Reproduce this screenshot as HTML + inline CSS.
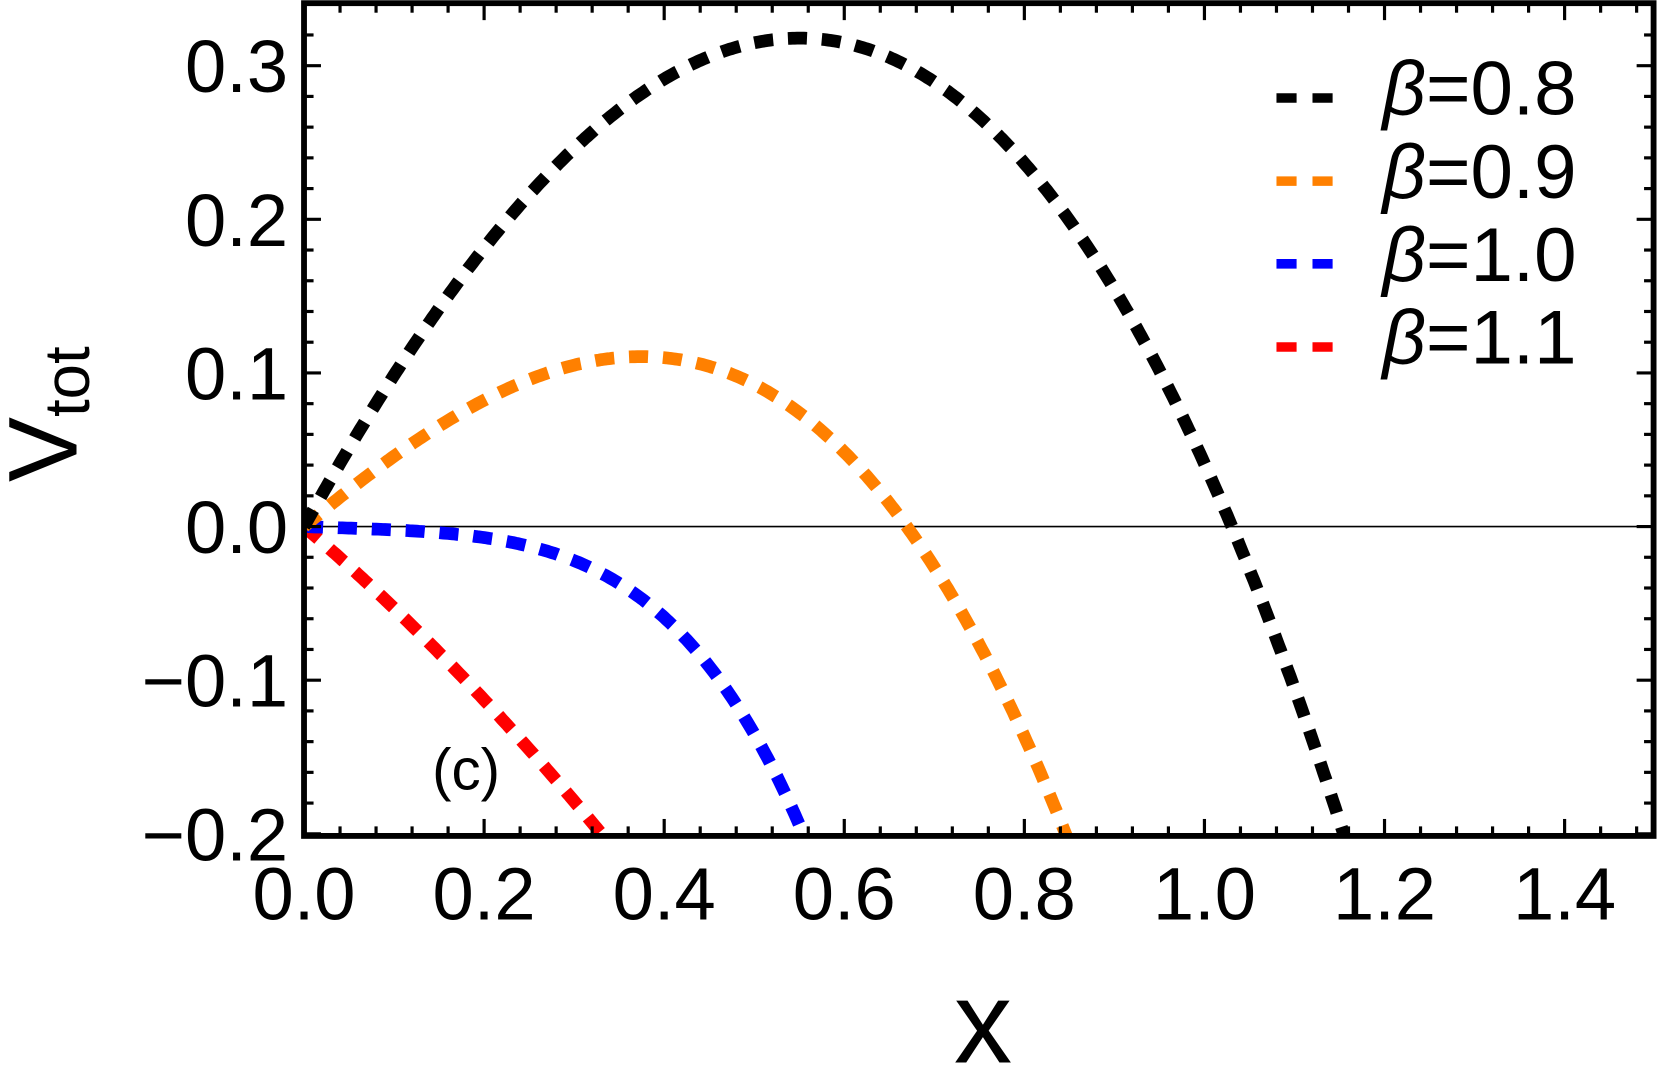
<!DOCTYPE html>
<html><head><meta charset="utf-8"><style>
html,body{margin:0;padding:0;background:#fff;}
svg{display:block;}
text{font-family:"Liberation Sans",sans-serif;fill:#000;}
</style></head><body>
<svg id="s" width="1661" height="1069" viewBox="0 0 1568 1009" preserveAspectRatio="none" xmlns="http://www.w3.org/2000/svg">
<defs><clipPath id="c"><rect x="287" y="3" width="1274" height="786"/></clipPath></defs>
<line x1="287" y1="497" x2="1561" y2="497" stroke="#000" stroke-width="1.5"/>
<g id="curves" clip-path="url(#c)" fill="none" stroke-width="12" stroke-dasharray="18 14"></g>
<g id="ticks" stroke="#000" stroke-width="3"></g>
<rect x="287" y="3" width="1274" height="786" fill="none" stroke="#000" stroke-width="5.5"/>
<g id="labels" font-size="70"></g>
<text x="440" y="745" font-size="55" text-anchor="middle">(c)</text>
<text x="928" y="1003" font-size="110" text-anchor="middle">x</text>
<text transform="translate(72,455) rotate(-90)" font-size="92">V<tspan font-size="60" dy="12">tot</tspan></text>
<g stroke-width="9">
<line x1="1205" y1="92.5" x2="1258" y2="92.5" stroke="#000" stroke-dasharray="19 15"/>
<line x1="1205" y1="171" x2="1258" y2="171" stroke="#ff8000" stroke-dasharray="19 15"/>
<line x1="1205" y1="249" x2="1258" y2="249" stroke="#0000ff" stroke-dasharray="19 15"/>
<line x1="1205" y1="327.5" x2="1258" y2="327.5" stroke="#ff0000" stroke-dasharray="19 15"/>
</g>
<g font-size="72">
<text x="1305" y="108"><tspan font-style="italic">β</tspan>=0.8</text>
<text x="1305" y="187"><tspan font-style="italic">β</tspan>=0.9</text>
<text x="1305" y="265"><tspan font-style="italic">β</tspan>=1.0</text>
<text x="1305" y="343"><tspan font-style="italic">β</tspan>=1.1</text>
</g>
</svg>
<script>
(function(){
var NS="http://www.w3.org/2000/svg";
function X(x){return 287+850*x;}
function Y(v){return 497-1450*v;}
var fs=[
 ["#ff0000",function(x){return -0.5*x-0.32*x*x;}],
 ["#0000ff",function(x){return -0.02*x-2.0*x*x*x*x;}],
 ["#ff8000",function(x){return x*(0.49-0.25*x-0.72*x*x);}],
 ["#000000",function(x){return x*(1.059-0.699*x-0.319*x*x);}]
];
var g=document.getElementById("curves");
fs.forEach(function(f){
 var d="";
 for(var i=0;i<=600;i++){var x=i*1.5/600;var v=f[1](x);d+=(i?"L":"M")+X(x).toFixed(1)+","+Y(v).toFixed(1);if(v<-0.24)break;}
 var p=document.createElementNS(NS,"path");p.setAttribute("d",d);p.setAttribute("stroke",f[0]);g.appendChild(p);
});
var t=document.getElementById("ticks");
function ln(a,b,c,d){var l=document.createElementNS(NS,"line");l.setAttribute("x1",a);l.setAttribute("y1",b);l.setAttribute("x2",c);l.setAttribute("y2",d);t.appendChild(l);}
for(var k=0;k<=37;k++){var x=X(k*0.04);if(x>1560)break;var L=(k%5==0)?16:9;ln(x,789,x,789-L);ln(x,3,x,3+L);}
for(var k=-10;k<=17;k++){var y=Y(k*0.02);if(y<4||y>788)continue;var L=(k%5==0)?16:9;ln(287,y,287+L,y);ln(1561,y,1561-L,y);}
var lb=document.getElementById("labels");
function tx(s,x,y,a){var e=document.createElementNS(NS,"text");e.setAttribute("x",x);e.setAttribute("y",y);e.setAttribute("text-anchor",a);e.textContent=s;lb.appendChild(e);}
for(var k=0;k<=7;k++){tx((k*0.2).toFixed(1),X(k*0.2),868,"middle");}
var ys=[-0.2,-0.1,0,0.1,0.2,0.3];
ys.forEach(function(v){tx((v<0?"\u2212":"")+Math.abs(v).toFixed(1),272,Y(v)+25,"end");});
})();
</script>
</body></html>
